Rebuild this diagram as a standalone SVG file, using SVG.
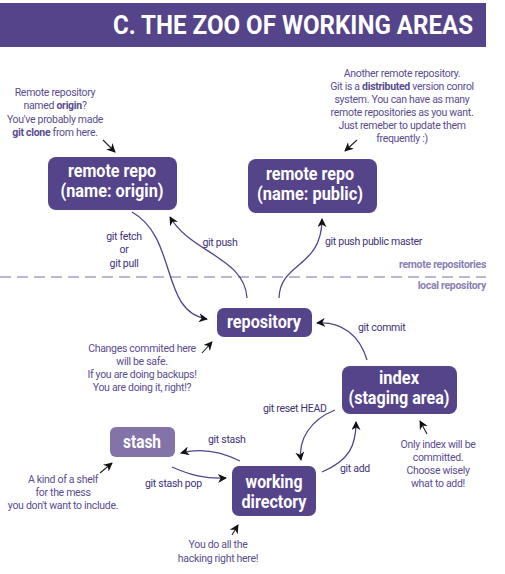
<svg xmlns="http://www.w3.org/2000/svg" width="505" height="574" viewBox="0 0 505 574">
<style>
.node{fill:#554489;}
.node.light{fill:#8373a9;}
.nt{font-family:Roboto,"Liberation Sans",sans-serif;font-weight:bold;font-size:18px;fill:#fff;text-anchor:middle;}
.ann{font-family:Roboto,"Liberation Sans",sans-serif;font-size:10.5px;fill:#5b4c90;text-anchor:middle;letter-spacing:-0.3px;}
.ann b,.ann .b{font-weight:bold;}
.lbl{font-family:Roboto,"Liberation Sans",sans-serif;font-size:10.5px;fill:#3f3176;letter-spacing:-0.3px;}
.layer{font-family:Roboto,"Liberation Sans",sans-serif;font-size:10.5px;font-weight:bold;fill:#8b80b3;text-anchor:end;letter-spacing:-0.3px;}
.conn{fill:none;stroke:#554489;stroke-width:1.3;marker-end:url(#ah);}
.pt{fill:none;stroke:#222;stroke-width:1.1;marker-end:url(#ah);}
</style>
<defs>
<marker id="ah" viewBox="0 0 10 10" refX="9" refY="5" markerWidth="9" markerHeight="9" markerUnits="userSpaceOnUse" orient="auto">
<path d="M0,0 L10,5 L0,10 L3,5 Z" fill="#111"/>
</marker>
</defs>

<g id="title">
<rect x="0" y="3" width="486" height="44" fill="#554489"/>
<text x="473" y="34" font-family="Roboto,'Liberation Sans',sans-serif" font-weight="bold" font-size="25" fill="#fff" text-anchor="end" textLength="360" lengthAdjust="spacingAndGlyphs">C. THE ZOO OF WORKING AREAS</text>
</g>

<g id="layers">
<line x1="0" y1="277" x2="486" y2="277" stroke="#7a6ea8" stroke-width="1" stroke-dasharray="11,6"/>
<text class="layer" x="486" y="268">remote repositories</text>
<text class="layer" x="486" y="289">local repository</text>
</g>

<g id="connectors">
<path class="conn" d="M 132 212 C 178 238, 160 312, 207 319"/>
<path class="conn" d="M 247 298 C 245 258, 190 252, 170 217"/>
<path class="conn" d="M 279 298 C 280 262, 322 268, 322 219"/>
<path class="conn" d="M 367 360 C 360 336, 342 321, 317 323"/>
<path class="conn" d="M 335 410 C 310 420, 298 440, 301 460"/>
<path class="conn" d="M 322 472 C 350 460, 356 445, 356 422"/>
<path class="conn" d="M 240 461 C 220 451, 200 448, 181 453"/>
<path class="conn" d="M 172 467 C 190 475, 205 479, 226 478"/>
<text class="lbl" x="124" y="240" text-anchor="middle">git fetch</text>
<text class="lbl" x="124" y="253" text-anchor="middle">or</text>
<text class="lbl" x="124" y="267" text-anchor="middle">git pull</text>
<text class="lbl" x="220" y="246" text-anchor="middle">git push</text>
<text class="lbl" x="325" y="245">git push public master</text>
<text class="lbl" x="358" y="331">git commit</text>
<text class="lbl" x="263" y="412">git reset HEAD</text>
<text class="lbl" x="340" y="472">git add</text>
<text class="lbl" x="208" y="443">git stash</text>
<text class="lbl" x="145" y="487">git stash pop</text>
</g>

<g id="origin">
<rect class="node" x="48" y="157" width="129" height="53" rx="8"/>
<text class="nt" x="112" y="177" textLength="88" lengthAdjust="spacingAndGlyphs">remote repo</text>
<text class="nt" x="112" y="197" textLength="103" lengthAdjust="spacingAndGlyphs">(name: origin)</text>
</g>

<g id="public">
<rect class="node" x="248" y="159" width="129" height="54" rx="8"/>
<text class="nt" x="310" y="180" textLength="88" lengthAdjust="spacingAndGlyphs">remote repo</text>
<text class="nt" x="310" y="200" textLength="106" lengthAdjust="spacingAndGlyphs">(name: public)</text>
</g>

<g id="repository">
<rect class="node" x="217" y="308" width="95" height="29" rx="7"/>
<text class="nt" x="264" y="328" textLength="74" lengthAdjust="spacingAndGlyphs">repository</text>
</g>

<g id="index">
<rect class="node" x="342" y="366" width="115" height="48" rx="8"/>
<text class="nt" x="399" y="384" textLength="40" lengthAdjust="spacingAndGlyphs">index</text>
<text class="nt" x="399" y="404" textLength="101" lengthAdjust="spacingAndGlyphs">(staging area)</text>
</g>

<g id="stash">
<rect class="node light" x="110" y="427" width="65" height="30" rx="6"/>
<text class="nt" x="142" y="448" textLength="38" lengthAdjust="spacingAndGlyphs">stash</text>
</g>

<g id="working-directory">
<rect class="node" x="232" y="466" width="84" height="50" rx="7"/>
<text class="nt" x="274" y="488" textLength="57" lengthAdjust="spacingAndGlyphs">working</text>
<text class="nt" x="274" y="508" textLength="65" lengthAdjust="spacingAndGlyphs">directory</text>
</g>

<g id="annotations">
<text class="ann" x="55" y="96">Remote repository</text>
<text class="ann" x="55" y="109">named <tspan class="b">origin</tspan>?</text>
<text class="ann" x="55" y="123">You've probably made</text>
<text class="ann" x="55" y="136"><tspan class="b">git clone</tspan> from here.</text>
<path class="pt" d="M 103 140 L 115 152"/>

<text class="ann" x="402" y="77">Another remote repository.</text>
<text class="ann" x="402" y="90">Git is a <tspan class="b">distributed</tspan> version conrol</text>
<text class="ann" x="402" y="103">system. You can have as many</text>
<text class="ann" x="402" y="116">remote repositories as you want.</text>
<text class="ann" x="402" y="129">Just remeber to update them</text>
<text class="ann" x="402" y="142">frequently :)</text>
<path class="pt" d="M 357 140 L 345 151"/>

<text class="ann" x="142" y="352">Changes commited here</text>
<text class="ann" x="142" y="365">will be safe.</text>
<text class="ann" x="142" y="378">If you are doing backups!</text>
<text class="ann" x="142" y="391">You are doing it, right!?</text>
<path class="pt" d="M 202 353 L 212 342"/>

<text class="ann" x="438" y="448">Only index will be</text>
<text class="ann" x="438" y="461">committed.</text>
<text class="ann" x="438" y="474">Choose wisely</text>
<text class="ann" x="438" y="487">what to add!</text>
<path class="pt" d="M 427 434 L 420 421"/>

<text class="ann" x="63" y="483">A kind of a shelf</text>
<text class="ann" x="63" y="496">for the mess</text>
<text class="ann" x="63" y="509">you don't want to include.</text>
<path class="pt" d="M 100 473 L 112 463"/>

<text class="ann" x="218" y="548">You do all the</text>
<text class="ann" x="218" y="562">hacking right here!</text>
<path class="pt" d="M 232 535 L 238 525"/>
</g>
</svg>
